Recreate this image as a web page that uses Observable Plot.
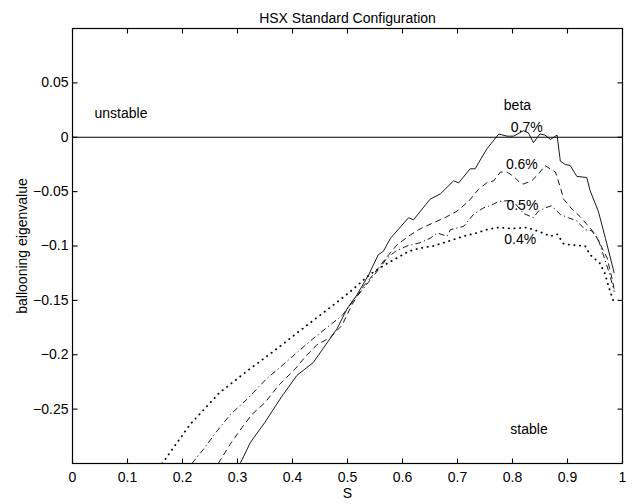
<!DOCTYPE html>
<html>
<head>
<meta charset="utf-8">
<script src="https://cdn.jsdelivr.net/npm/d3@7"></script>
<script src="https://cdn.jsdelivr.net/npm/@observablehq/plot@0.6"></script>
<style>
  html, body { margin: 0; padding: 0; background: white; }
</style>
</head>
<body>
<div id="chart"></div>
<script>
// ---- Data ----
const xTicks = [0, 0.1, 0.2, 0.3, 0.4, 0.5, 0.6, 0.7, 0.8, 0.9, 1];
const yTicks = [-0.25, -0.2, -0.15, -0.1, -0.05, 0, 0.05];

// beta = 0.7% (solid)
const s07 = [0.305,0.323,0.350,0.381,0.408,0.438,0.456,0.481,0.499,0.517,0.538,0.556,0.565,0.578,0.611,0.620,0.650,0.669,0.693,0.702,0.723,0.732,0.753,0.775,0.790,0.802,0.820,0.829,0.838,0.850,0.859,0.869,0.881,0.887,0.896,0.905,0.917,0.935,0.941,0.956,0.969,0.985];
const v07 = [-0.300,-0.281,-0.262,-0.238,-0.219,-0.207,-0.194,-0.176,-0.158,-0.145,-0.127,-0.108,-0.105,-0.093,-0.074,-0.076,-0.057,-0.052,-0.040,-0.042,-0.029,-0.029,-0.011,0.003,0.001,0.001,0.006,0.004,-0.005,0.003,0.002,-0.002,0.002,-0.022,-0.025,-0.026,-0.036,-0.037,-0.049,-0.068,-0.093,-0.125];

// beta = 0.6% (dashed)
const s06 = [0.265,0.287,0.308,0.326,0.350,0.375,0.405,0.423,0.444,0.469,0.490,0.508,0.529,0.541,0.575,0.590,0.611,0.629,0.650,0.677,0.699,0.720,0.738,0.753,0.766,0.778,0.790,0.802,0.814,0.820,0.835,0.847,0.859,0.878,0.887,0.893,0.908,0.923,0.935,0.950,0.972,0.981,0.985];
const v06 = [-0.300,-0.282,-0.267,-0.255,-0.244,-0.228,-0.213,-0.202,-0.191,-0.184,-0.173,-0.154,-0.137,-0.130,-0.108,-0.099,-0.091,-0.085,-0.080,-0.074,-0.068,-0.059,-0.048,-0.042,-0.040,-0.032,-0.032,-0.036,-0.042,-0.043,-0.040,-0.034,-0.026,-0.032,-0.046,-0.057,-0.066,-0.073,-0.080,-0.089,-0.111,-0.130,-0.140];

// beta = 0.5% (dash-dot)
const s05 = [0.217,0.238,0.263,0.287,0.317,0.353,0.381,0.408,0.438,0.465,0.490,0.511,0.529,0.559,0.572,0.587,0.608,0.632,0.650,0.663,0.681,0.687,0.711,0.729,0.747,0.759,0.775,0.800,0.820,0.838,0.847,0.859,0.871,0.887,0.902,0.917,0.932,0.944,0.956,0.976,0.985];
const v05 = [-0.300,-0.287,-0.270,-0.255,-0.241,-0.222,-0.210,-0.198,-0.185,-0.174,-0.164,-0.150,-0.139,-0.120,-0.111,-0.105,-0.100,-0.097,-0.093,-0.088,-0.091,-0.085,-0.082,-0.071,-0.065,-0.063,-0.059,-0.058,-0.070,-0.074,-0.068,-0.065,-0.063,-0.071,-0.074,-0.077,-0.085,-0.086,-0.094,-0.125,-0.142];

// beta = 0.4% (dotted)
const s04 = [0.163,0.214,0.267,0.320,0.373,0.426,0.475,0.505,0.541,0.569,0.590,0.611,0.632,0.656,0.681,0.711,0.735,0.753,0.772,0.800,0.826,0.850,0.869,0.881,0.893,0.905,0.932,0.941,0.959,0.968,0.974,0.985];
const v04 = [-0.300,-0.264,-0.235,-0.214,-0.194,-0.173,-0.154,-0.142,-0.126,-0.117,-0.111,-0.105,-0.102,-0.100,-0.096,-0.091,-0.088,-0.085,-0.083,-0.084,-0.083,-0.087,-0.091,-0.089,-0.098,-0.099,-0.100,-0.108,-0.116,-0.125,-0.136,-0.153];

// annotations
const leftText = ["unstable"];
const leftS = [0.040];
const leftV = [0.022];
const annoText = ["beta", "0.7%", "0.6%", "0.5%", "0.4%", "stable"];
const annoS    = [0.809, 0.826, 0.817, 0.818, 0.814, 0.830];
const annoV    = [0.029, 0.009, -0.025, -0.063, -0.094, -0.269];

const titleText = "HSX Standard Configuration";
const xLabel = "S";
const yLabel = "ballooning eigenvalue";

// ---- Layout ----
const W = 633, H = 504, mL = 72, mR = 11, mT = 28, mB = 41;
const xDom = [0, 1], yDom = [-0.3, 0.1];
const tickPx = 5;
// tick length converted into data units of each scale
const tickLenX = tickPx * (xDom[1] - xDom[0]) / (W - mL - mR);
const tickLenY = tickPx * (yDom[1] - yDom[0]) / (H - mT - mB);

// ---- Build tables ----
const toRows = (s, v) => s.map((x, i) => ({s: x, v: v[i]}));
const series = [
  {rows: toRows(s07, v07), dash: null, width: 0.9, cap: "butt"},
  {rows: toRows(s06, v06), dash: "6,4", width: 0.9, cap: "butt"},
  {rows: toRows(s05, v05), dash: "6,3,1.2,3", width: 0.9, cap: "butt"},
  {rows: toRows(s04, v04), dash: "0.3,5.3", width: 1.8, cap: "round"}
];
const annos = annoText.map((t, i) => ({t, s: annoS[i], v: annoV[i]}));
const lefts = leftText.map((t, i) => ({t, s: leftS[i], v: leftV[i]}));
const xTickRows = xTicks.map(x => ({x}));
const yTickRows = yTicks.map(y => ({y}));

const fmt = d => (Math.abs(d) < 1e-12 ? "0" : String(+d.toFixed(4)).replace("-", "\u2212"));
const font = "'Liberation Sans', Arial, Helvetica, sans-serif";

const chart = Plot.plot({
  width: W,
  height: H,
  marginLeft: mL,
  marginRight: mR,
  marginTop: mT,
  marginBottom: mB,
  style: {fontFamily: font, fontSize: "14px", color: "black", background: "white", overflow: "visible"},
  x: {domain: xDom, label: xLabel},
  y: {domain: yDom, label: yLabel},
  marks: [
    // tick labels and axis titles
    Plot.axisX(xTicks, {anchor: "bottom", tickSize: 0, tickPadding: 9, stroke: "none", tickFormat: fmt,
      label: xLabel, labelAnchor: "center", labelArrow: "none", labelOffset: 34}),
    Plot.axisY(yTicks, {anchor: "left", tickSize: 0, tickPadding: 4, stroke: "none", tickFormat: fmt,
      label: yLabel, labelAnchor: "center", labelArrow: "none", labelOffset: 55}),
    Plot.ruleY([0], {stroke: "black", strokeWidth: 1.2}),
    ...series.map(sr => Plot.line(sr.rows, {
      x: "s", y: "v", stroke: "black", strokeWidth: sr.width,
      strokeDasharray: sr.dash, strokeLinecap: sr.cap,
      clip: true
    })),
    Plot.text(annos, {x: "s", y: "v", text: "t", textAnchor: "middle", fill: "black", fontSize: 14}),
    Plot.text(lefts, {x: "s", y: "v", text: "t", textAnchor: "start", fill: "black", fontSize: 14}),
    Plot.text([titleText], {frameAnchor: "top", dy: -15, fill: "black", fontSize: 14}),
    Plot.frame({stroke: "black", strokeWidth: 1.2}),
    // inward ticks on all four sides (drawn last, on top)
    Plot.link(xTickRows, {x1: "x", x2: "x", y1: () => yDom[0], y2: () => yDom[0] + tickLenY, stroke: "black", strokeWidth: 1.1}),
    Plot.link(xTickRows, {x1: "x", x2: "x", y1: () => yDom[1], y2: () => yDom[1] - tickLenY, stroke: "black", strokeWidth: 1.1}),
    Plot.link(yTickRows, {y1: "y", y2: "y", x1: () => xDom[0], x2: () => xDom[0] + tickLenX, stroke: "black", strokeWidth: 1.1}),
    Plot.link(yTickRows, {y1: "y", y2: "y", x1: () => xDom[1], x2: () => xDom[1] - tickLenX, stroke: "black", strokeWidth: 1.1})
  ]
});

document.getElementById("chart").appendChild(chart);
</script>
</body>
</html>
